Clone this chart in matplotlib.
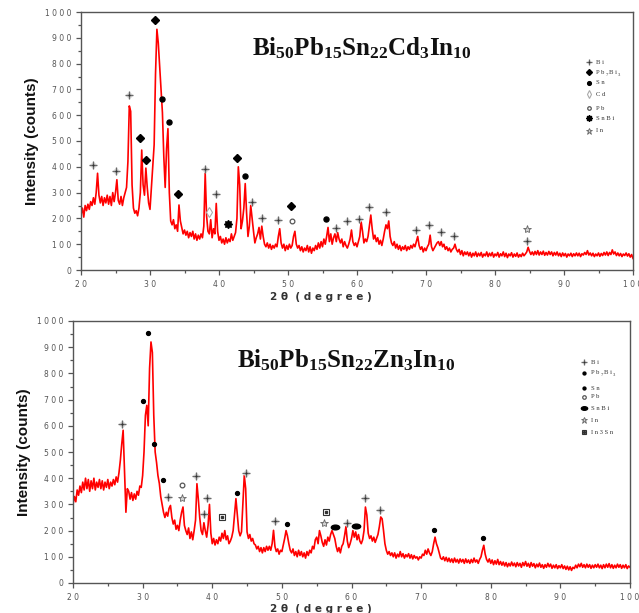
import numpy as np
import matplotlib
matplotlib.use("Agg")
import matplotlib.pyplot as plt
from matplotlib.markers import MarkerStyle
from matplotlib.transforms import Affine2D
from matplotlib.ticker import MultipleLocator, FuncFormatter

plt.rcParams['mathtext.fontset'] = 'custom'
plt.rcParams['mathtext.rm'] = 'Liberation Serif:bold'
plt.rcParams['mathtext.it'] = 'Liberation Serif:bold'
plt.rcParams['mathtext.bf'] = 'Liberation Serif:bold'

# ---------------- data ----------------
two_theta = np.round(np.arange(20.0, 100.0001, 0.2), 1)

cd_intensity = [
    215, 240, 205, 250, 230, 255, 235, 265, 250, 280, 255, 300, 375, 290, 260, 285, 250, 280, 260, 290,
    255, 285, 250, 300, 265, 300, 350, 270, 255, 285, 250, 280, 300, 320, 420, 636, 615, 330, 240, 220,
    230, 210, 240, 300, 465, 330, 290, 395, 320, 260, 235, 320, 400, 485, 760, 933, 880, 790, 700, 610,
    440, 320, 470, 548, 300, 190, 175, 195, 160, 175, 150, 252, 190, 165, 140, 155, 135, 150, 125, 145,
    130, 150, 120, 140, 115, 135, 120, 140, 125, 170, 375, 210, 150, 140, 195, 125, 160, 140, 258, 150,
    115, 130, 105, 120, 100, 125, 105, 120, 110, 140, 115, 130, 145, 200, 400, 330, 160, 190, 240, 335,
    220, 130, 170, 250, 200, 150, 105, 125, 140, 165, 120, 170, 130, 100, 90, 105, 85, 100, 80, 95,
    85, 100, 90, 130, 160, 105, 85, 100, 75, 95, 80, 100, 85, 95, 130, 150, 100, 85, 95, 75,
    90, 70, 85, 75, 95, 70, 90, 65, 85, 75, 95, 80, 105, 85, 110, 90, 120, 100, 130, 165,
    110, 140, 100, 125, 140, 110, 145, 120, 105, 120, 90, 110, 95, 85, 100, 120, 155, 110, 95, 105,
    90, 110, 130, 187, 150, 105, 120, 110, 130, 170, 213, 160, 120, 135, 110, 125, 100, 115, 95, 120,
    150, 175, 160, 190, 130, 105, 95, 110, 85, 100, 80, 95, 75, 90, 80, 95, 75, 90, 80, 95,
    85, 100, 90, 110, 130, 95, 80, 90, 70, 85, 75, 90, 100, 135, 90, 75, 85, 95, 105, 110,
    95, 110, 90, 100, 80, 90, 75, 85, 70, 80, 85, 100, 80, 70, 80, 60, 75, 55, 70, 60,
    70, 55, 68, 50, 65, 55, 70, 52, 65, 55, 68, 50, 62, 55, 70, 52, 65, 55, 68, 50,
    62, 55, 68, 50, 63, 55, 70, 52, 65, 48, 62, 55, 67, 50, 62, 53, 66, 50, 60, 52,
    65, 55, 62, 70, 88, 72, 60, 70, 58, 72, 60, 75, 58, 70, 60, 73, 57, 68, 58, 72,
    60, 70, 55, 68, 58, 70, 55, 65, 52, 66, 55, 64, 50, 62, 55, 65, 52, 63, 55, 66,
    55, 65, 52, 63, 58, 68, 60, 75, 58, 66, 55, 65, 52, 62, 55, 66, 53, 64, 56, 68,
    58, 70, 56, 68, 60, 78, 62, 70, 56, 66, 55, 64, 52, 62, 56, 66, 54, 63, 50, 60,
    45,
]

zn_intensity = [
    300, 330, 310, 355, 335, 370, 345, 385, 355, 400, 360, 395, 350, 390, 360, 400, 355, 385, 365, 395,
    360, 390, 355, 385, 365, 395, 360, 385, 370, 395, 375, 405, 385, 420, 468, 530, 583, 420, 270, 360,
    350, 320, 345, 315, 340, 320, 350, 335, 370, 365, 410, 500, 640, 678, 600, 820, 920, 880, 640, 500,
    460, 410, 380, 330, 300, 270, 250, 270, 255, 285, 296, 250, 225, 240, 205, 220, 200, 240, 270, 290,
    220, 200, 185, 210, 170, 195, 165, 200, 240, 379, 320, 250, 200, 185, 230, 200, 175, 220, 300, 190,
    150, 170, 145, 165, 150, 175, 160, 190, 170, 200, 165, 180, 150, 160, 175, 200, 260, 322, 260, 200,
    180, 195, 300, 411, 360, 195, 170, 185, 160, 170, 150, 145, 130, 140, 120, 135, 115, 135, 120, 140,
    125, 140, 125, 150, 201, 140, 120, 130, 110, 125, 120, 145, 170, 200, 180, 150, 125, 115, 130, 105,
    120, 100, 125, 105, 120, 100, 115, 95, 120, 105, 125, 115, 140, 130, 165, 175, 150, 200, 180, 155,
    140, 165, 145, 175, 160, 185, 200, 185, 170, 140, 120, 135, 115, 140, 150, 180, 215, 160, 135, 150,
    170, 200, 175, 195, 165, 185, 160, 150, 165, 200, 290, 260, 190, 170, 180, 160, 175, 155, 170, 185,
    215, 252, 245, 200, 150, 125, 110, 120, 105, 115, 100, 115, 95, 110, 100, 120, 100, 112, 95, 108,
    100, 112, 95, 108, 92, 105, 95, 100, 88, 100, 95, 110, 105, 125, 110, 130, 115, 105, 120, 150,
    175, 150, 135, 115, 95, 90, 100, 85, 98, 82, 95, 80, 92, 78, 95, 80, 90, 76, 92, 80,
    90, 75, 92, 78, 88, 75, 90, 78, 95, 80, 88, 75, 90, 100, 125, 144, 110, 90, 80, 92,
    75, 88, 70, 85, 72, 90, 70, 82, 68, 80, 65, 78, 62, 75, 65, 80, 66, 76, 62, 78,
    65, 75, 60, 78, 66, 82, 64, 75, 60, 78, 64, 74, 58, 72, 62, 76, 60, 70, 56, 70,
    60, 75, 62, 72, 56, 68, 58, 70, 55, 66, 58, 70, 55, 65, 52, 64, 50, 62, 48, 60,
    55, 68, 58, 72, 62, 75, 60, 70, 58, 72, 60, 70, 56, 68, 58, 70, 60, 72, 58, 68,
    55, 70, 58, 72, 60, 74, 58, 70, 56, 68, 58, 72, 60, 70, 56, 68, 58, 70, 55, 65,
    60,
]

# phase identification marks (2theta, intensity, phase)
cd_mark_x = [21.7, 25.0, 27.0, 28.5, 29.4, 30.7, 31.8, 32.7, 34.1, 38.0, 38.6, 39.6, 41.3, 42.6, 43.8,
             44.8, 46.2, 48.5, 50.5, 50.6, 55.5, 56.9, 58.5, 60.3, 61.7, 64.2, 68.6, 70.4, 72.2, 74.1,
             84.7, 84.7]
cd_mark_y = [408, 384, 678, 510, 428, 970, 661, 575, 295, 393, 224, 293, 180, 433, 366,
             265, 202, 193, 248, 190, 196, 164, 189, 199, 245, 226, 155, 173, 146, 132,
             158, 114]
cd_mark_phase = ['Bi', 'Bi', 'Bi', 'Pb7Bi3', 'Pb7Bi3', 'Pb7Bi3', 'Sn', 'Sn', 'Pb7Bi3', 'Bi', 'Cd', 'Bi',
                 'SnBi', 'Pb7Bi3', 'Sn', 'Bi', 'Bi', 'Bi', 'Pb7Bi3', 'Pb', 'Sn', 'Bi', 'Bi', 'Bi', 'Bi',
                 'Bi', 'Bi', 'Bi', 'Bi', 'Bi', 'In', 'Bi']

zn_mark_x = [27.0, 30.1, 30.8, 31.7, 32.9, 33.7, 35.6, 35.6, 37.6, 38.8, 39.2, 41.4, 43.5, 44.8, 49.0,
             50.7, 56.3, 56.1, 57.7, 59.4, 60.7, 61.9, 64.1, 71.8, 78.9]
zn_mark_y = [606, 693, 955, 529, 392, 328, 373, 326, 407, 262, 326, 252, 343, 420, 237,
             224, 270, 229, 214, 229, 219, 323, 280, 201, 172]
zn_mark_phase = ['Bi', 'Pb7Bi3', 'Pb7Bi3', 'Sn', 'Sn', 'Bi', 'Pb', 'In', 'Bi', 'Bi', 'Bi', 'In3Sn',
                 'Sn', 'Bi', 'Bi', 'Sn', 'In3Sn', 'In', 'SnBi', 'Bi', 'SnBi', 'Bi', 'Bi', 'Sn', 'Sn']

cd_legend = ['Bi', 'Pb7Bi3', 'Sn', 'Cd', 'Pb', 'SnBi', 'In']
zn_legend = ['Bi', 'Pb7Bi3', 'Sn', 'Pb', 'SnBi', 'In', 'In3Sn']
legend_text = {'Bi': 'B i', 'Sn': 'S n', 'Cd': 'C d',
               'Pb': 'P b', 'SnBi': 'S n B i', 'In': 'I n', 'In3Sn': 'I n 3 S n'}
# Pb7Bi3 label pieces: (text, is_subscript)
pb7bi3_parts = [('P b', False), ('7', True), ('B i', False), ('3', True)]

cd_title = r'$\mathrm{Bi_{50}Pb_{15}Sn_{22}Cd_{3}In_{10}}$'
zn_title = r'$\mathrm{Bi_{50}Pb_{15}Sn_{22}Zn_{3}In_{10}}$'

# ---------------- drawing ----------------
W, H = 639, 613
fig = plt.figure(figsize=(W / 100, H / 100), dpi=100)


def px_axes(l, t, r, b):
    return fig.add_axes([l / W, 1 - b / H, (r - l) / W, (b - t) / H])


def draw_mark(ax, x, y, phase, big, scale=1.0, **kw):
    common = dict(linestyle='none', clip_on=False, **kw)
    s = scale
    if phase == 'Bi':
        ax.plot([x], [y], marker='D', ms=3.6 * s, mfc='#d6d6d6', mec='none', **common)
        ax.plot([x], [y], marker='+', ms=5.2 * s, mew=0.9, color='#6a6a6a', **common)
        ax.plot([x], [y], marker='o', ms=1.6 * s, color='#333333', mec='none', **common)
    elif phase == 'Pb7Bi3':
        if big:
            ax.plot([x], [y], marker='D', ms=4.0 * s, color='black', **common)
        else:
            ax.plot([x], [y], marker='o', ms=2.8 * s, color='black', **common)
    elif phase == 'Sn':
        ax.plot([x], [y], marker='o', ms=3.6 * s if big else 2.8 * s, color='black', **common)
    elif phase == 'Cd':
        ax.plot([x], [y], marker='d', ms=5 * s, mfc='white', mec='#aaaaaa', mew=0.8, **common)
    elif phase == 'Pb':
        ax.plot([x], [y], marker='o', ms=3.4 * s, mfc='white', mec='#555555', mew=0.9, **common)
    elif phase == 'SnBi':
        if big:
            ax.plot([x], [y], marker=(8, 1, 0), ms=6 * s, color='black', **common)
            ax.plot([x], [y], marker='o', ms=3.6 * s, color='black', **common)
        else:
            ms = MarkerStyle('o', transform=Affine2D().scale(1.5, 0.85))
            ax.plot([x], [y], marker=ms, ms=4 * s, color='black', **common)
    elif phase == 'In':
        ax.plot([x], [y], marker='*', ms=6 * s, mfc='#d0d0d0', mec='#666666', mew=0.6, **common)
    elif phase == 'In3Sn':
        ax.plot([x], [y], marker='s', ms=4.5 * s, mfc='white', mec='#333333', mew=0.8, **common)
        ax.plot([x], [y], marker='s', ms=1.6 * s, color='#333333', **common)


def spaced(v, pos):
    return ' '.join(str(int(round(v))))


def style_axes(ax):
    ax.set_xlim(20, 100)
    ax.set_ylim(0, 1000)
    ax.xaxis.set_major_locator(MultipleLocator(10))
    ax.xaxis.set_minor_locator(MultipleLocator(5))
    ax.yaxis.set_major_locator(MultipleLocator(100))
    ax.yaxis.set_minor_locator(MultipleLocator(50))
    ax.xaxis.set_major_formatter(FuncFormatter(spaced))
    ax.yaxis.set_major_formatter(FuncFormatter(spaced))
    ax.tick_params(which='both', direction='out', top=False, right=False,
                   labelsize=5.5, labelcolor='#555555', color='#555555', width=0.9)
    ax.tick_params(which='major', length=3.5)
    ax.tick_params(which='minor', length=2)
    for s in ax.spines.values():
        s.set_color('#555555')
        s.set_linewidth(1.0)
    ax.set_ylabel('Intensity (counts)', fontsize=11, fontweight='bold',
                  family='Liberation Sans', color='#111111', labelpad=4)
    ax.set_xlabel('2 θ  ( d e g r e e )', fontsize=7.5, fontweight='bold',
                  color='#333333', labelpad=2)


def draw_legend(ax, items, x_mark, x_text, ys, big):
    for ph, yy in zip(items, ys):
        lx, ly = x_mark / W, 1 - yy / H
        draw_mark(ax, lx, ly, ph, big, scale=0.75, transform=fig.transFigure)
        if ph == 'Pb7Bi3':
            offsets = [0, 9.5, 13, 22]
            for (txt, sub), dx in zip(pb7bi3_parts, offsets):
                fig.text((x_text + dx) / W, ly - (2.5 if sub else 0) / H, txt,
                         fontsize=3.4 if sub else 4.8, color='#333333',
                         family='Liberation Serif', va='center', ha='left')
        else:
            fig.text(x_text / W, ly, legend_text[ph], fontsize=4.8, color='#333333',
                     family='Liberation Serif', va='center', ha='left')


# top panel
ax1 = px_axes(81, 12, 633, 270)
ax1.plot(two_theta, cd_intensity, color='#ff0000', lw=1.2)
for x, y, p in zip(cd_mark_x, cd_mark_y, cd_mark_phase):
    draw_mark(ax1, x, y, p, True)
style_axes(ax1)
ax1.xaxis.set_label_coords(0.435, -0.085)
ax1.text(0.31, 0.86, cd_title, transform=ax1.transAxes, fontsize=18, ha='left', va='center', color='#111111')

# bottom panel
ax2 = px_axes(73, 321, 630, 583)
ax2.plot(two_theta, zn_intensity, color='#ff0000', lw=1.2)
for x, y, p in zip(zn_mark_x, zn_mark_y, zn_mark_phase):
    draw_mark(ax2, x, y, p, False)
style_axes(ax2)
ax2.xaxis.set_label_coords(0.445, -0.08)
ax2.text(0.295, 0.85, zn_title, transform=ax2.transAxes, fontsize=18, ha='left', va='center', color='#111111')

draw_legend(ax1, cd_legend, 589, 596, [62, 72, 83, 94, 108, 118, 131], True)
draw_legend(ax2, zn_legend, 584, 591, [362, 373, 388, 397, 408, 420, 432], False)

fig.savefig('out.png', dpi=100)
